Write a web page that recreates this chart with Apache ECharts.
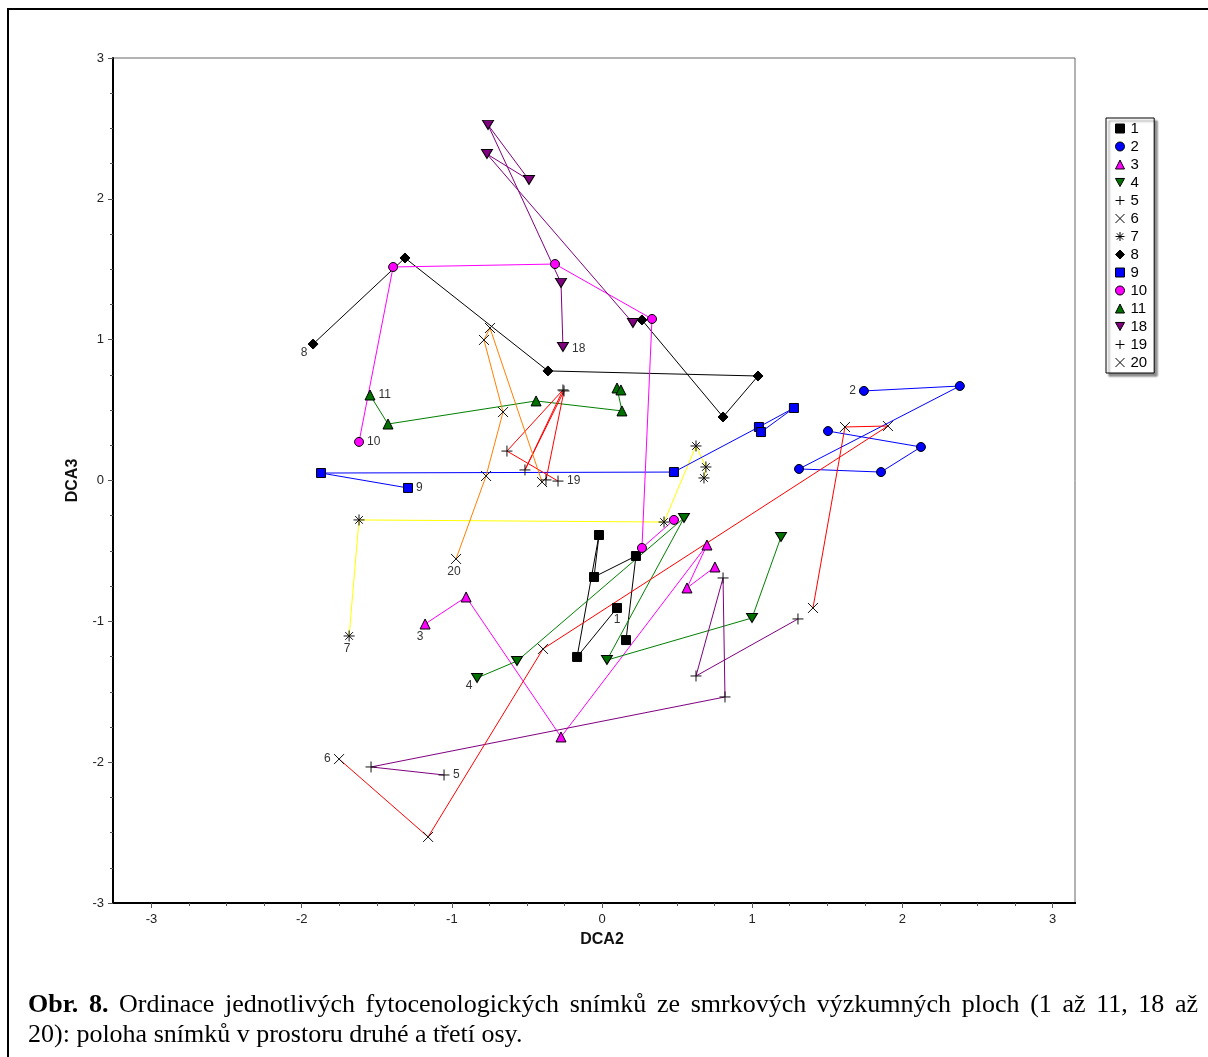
<!DOCTYPE html>
<html>
<head>
<meta charset="utf-8">
<script src="https://cdn.jsdelivr.net/npm/echarts@6/dist/echarts.min.js"></script>
<style>
  html, body { margin: 0; padding: 0; background: #fff; }
  #chart { width: 1208px; height: 1057px; }
</style>
</head>
<body>
<div id="chart"></div>
<script>
// DCA ordination scores (axis 2, axis 3) of the relevés, one array per plot
const plotNames = ['1', '2', '3', '4', '5', '6', '7', '8', '9', '10', '11', '18', '19', '20'];

const plot1  = [[0.100, -0.905], [-0.166, -1.253], [-0.020, -0.387], [-0.053, -0.685], [0.226, -0.536], [0.160, -1.133]];
const plot2  = [[1.744, 0.636], [2.383, 0.671], [1.312, 0.082], [1.858, 0.060], [2.124, 0.238], [1.505, 0.351]];
const plot3  = [[-1.178, -1.019], [-0.905, -0.827], [-0.273, -1.821], [0.699, -0.458], [0.566, -0.763], [0.752, -0.614]];
const plot4  = [[-0.832, -1.402], [-0.566, -1.282], [0.546, -0.266], [0.033, -1.275], [0.999, -0.976], [1.192, -0.401]];
const plot5  = [[-1.052, -2.091], [-1.538, -2.034], [0.819, -1.537], [0.806, -0.692], [0.626, -1.388], [1.305, -0.983]];
const plot6  = [[-1.751, -1.978], [-1.158, -2.531], [-0.393, -1.196], [1.904, 0.387], [1.618, 0.380], [1.405, -0.905]];
const plot7  = [[-1.684, -1.104], [-1.618, -0.280], [0.413, -0.295], [0.626, 0.245], [0.692, 0.096], [0.679, 0.018]];
const plot8  = [[-1.924, 0.969], [-1.312, 1.580], [-0.360, 0.778], [1.039, 0.742], [0.806, 0.451], [0.266, 1.140]];
const plot9  = [[-1.292, -0.053], [-1.871, 0.053], [0.479, 0.060], [1.045, 0.380], [1.278, 0.515], [1.059, 0.344]];
const plot10 = [[-1.618, 0.274], [-1.391, 1.516], [-0.313, 1.537], [0.333, 1.147], [0.266, -0.479], [0.479, -0.280]];
const plot11 = [[-1.545, 0.607], [-1.425, 0.401], [-0.439, 0.565], [0.133, 0.494], [0.100, 0.657], [0.126, 0.643]];
const plot18 = [[-0.260, 0.948], [-0.273, 1.403], [-0.759, 2.525], [-0.486, 2.134], [-0.766, 2.318], [0.206, 1.118]];
const plot19 = [[-0.293, -0.004], [-0.633, 0.209], [-0.260, 0.643], [-0.513, 0.075], [-0.253, 0.636], [-0.373, 0.004]];
const plot20 = [[-0.972, -0.557], [-0.772, 0.032], [-0.659, 0.486], [-0.786, 0.998], [-0.746, 1.083], [-0.399, -0.011]];

const plotData = [plot1, plot2, plot3, plot4, plot5, plot6, plot7, plot8, plot9, plot10, plot11, plot18, plot19, plot20];

// axis range and ticks
const axisMin = -3;
const axisMax = 3;
const axisStep = 1;

const captionBold = 'Obr. 8.';
const captionLine1 = 'Ordinace jednotlivých fytocenologických snímků ze smrkových výzkumných ploch (1 až 11, 18 až';
const captionLine2 = '20): poloha snímků v prostoru druhé a třetí osy.';

// ---- marker shapes ----
const PLUS = 'path://M0,5L10,5M5,0L5,10';
const CROSS = 'path://M0,0L10,10M10,0L0,10';
const STAR = 'path://M0,5L10,5M5,0L5,10M1.5,1.5L8.5,8.5M8.5,1.5L1.5,8.5';
const DOWN = 'path://M0,0L10,0L5,9Z';

// marker + line style for each plot
const styles = {
  '1':  { symbol: 'rect',     size: 9,       fill: '#000000', line: '#000000', label: ['bottom', [0, -2]] },
  '2':  { symbol: 'circle',   size: 9,       fill: '#0000ff', line: '#0000ff', label: ['left', [0, 0]] },
  '3':  { symbol: 'triangle', size: 10,      fill: '#ff00ff', line: '#ff00ff', label: ['bottom', [-5, -2]] },
  '4':  { symbol: DOWN,       size: [11, 9], fill: '#007000', line: '#008000', label: ['bottom', [-8, -6]] },
  '5':  { symbol: PLUS,       size: 11,      fill: 'none',    line: '#800080', label: ['right', [0, 0]] },
  '6':  { symbol: CROSS,      size: 10,      fill: 'none',    line: '#ff0000', label: ['left', [0, 0]] },
  '7':  { symbol: STAR,       size: 11,      fill: 'none',    line: '#ffff00', label: ['bottom', [-2, -2]] },
  '8':  { symbol: 'diamond',  size: [10, 10],fill: '#000000', line: '#000000', label: ['bottom', [-9, -6]] },
  '9':  { symbol: 'rect',     size: 9,       fill: '#0000ff', line: '#0000ff', label: ['right', [0, 0]] },
  '10': { symbol: 'circle',   size: 9,       fill: '#ff00ff', line: '#ff00ff', label: ['right', [0, 0]] },
  '11': { symbol: 'triangle', size: 10,      fill: '#007000', line: '#008000', label: ['right', [0, 0]] },
  '18': { symbol: DOWN,       size: [11, 9], fill: '#800080', line: '#800080', label: ['right', [0, 2]] },
  '19': { symbol: PLUS,       size: 11,      fill: 'none',    line: '#ff0000', label: ['right', [0, 0]] },
  '20': { symbol: CROSS,      size: 10,      fill: 'none',    line: '#ff8000', label: ['bottom', [-2, -2]] }
};

const LABEL_FONT = 'Liberation Sans';

const series = plotNames.map(function (name, i) {
  const st = styles[name];
  const stroked = st.fill === 'none';
  const data = plotData[i].map(function (p, j) {
    if (j !== 0) return p;
    return {
      value: p,
      label: {
        show: true,
        formatter: name,
        position: st.label[0],
        offset: st.label[1],
        distance: 3,
        fontSize: 12,
        fontFamily: LABEL_FONT,
        color: '#333'
      }
    };
  });
  return {
    name: name,
    type: 'line',
    data: data,
    symbol: st.symbol,
    symbolSize: st.size,
    showAllSymbol: true,
    clip: false,
    silent: true,
    animation: false,
    lineStyle: { color: st.line, width: 1 },
    itemStyle: {
      color: stroked ? 'rgba(0,0,0,0)' : st.fill,
      borderColor: stroked ? '#111' : '#000',
      borderWidth: 1
    },
    label: { show: false },
    emphasis: { disabled: true }
  };
});

const legendData = plotNames.map(function (name) {
  const st = styles[name];
  const stroked = st.fill === 'none';
  return {
    name: name,
    icon: st.symbol,
    itemStyle: {
      color: stroked ? 'rgba(0,0,0,0)' : st.fill,
      borderColor: '#000',
      borderWidth: 1
    }
  };
});

// ---- caption: first line justified across the text block ----
const capLeft = 28, capRight = 1198, capSize = 26;
const capFont = '"Liberation Serif", "Times New Roman", serif';
const measureCtx = document.createElement('canvas').getContext('2d');
function textWidth(t, bold) {
  measureCtx.font = (bold ? 'bold ' : '') + capSize + 'px ' + capFont;
  return measureCtx.measureText(t).width;
}
const words1 = captionBold.split(' ').map(function (w) { return { t: w, b: true }; })
  .concat(captionLine1.split(' ').map(function (w) { return { t: w, b: false }; }));
let total = 0;
words1.forEach(function (w) { w.w = textWidth(w.t, w.b); total += w.w; });
const gap = (capRight - capLeft - total) / (words1.length - 1);
const captionEls = [];
let cx = capLeft;
words1.forEach(function (w) {
  captionEls.push({
    type: 'text', x: cx, y: 1005, silent: true,
    style: {
      text: w.t, fill: '#000', fontSize: capSize, fontFamily: capFont,
      fontWeight: w.b ? 'bold' : 'normal', align: 'left', verticalAlign: 'middle'
    }
  });
  cx += w.w + gap;
});
captionEls.push({
  type: 'text', x: capLeft, y: 1035, silent: true,
  style: {
    text: captionLine2, fill: '#000', fontSize: capSize, fontFamily: capFont,
    align: 'left', verticalAlign: 'middle'
  }
});

const chart = echarts.init(document.getElementById('chart'), null, { renderer: 'canvas' });

const axisLabelStyle = { fontSize: 13, fontFamily: LABEL_FONT, color: '#222' };
const tickStyle = { color: '#555', width: 1 };

chart.setOption({
  animation: false,
  backgroundColor: '#fff',
  grid: {
    left: 151.5, right: 155.5, top: 58, bottom: 154,
    containLabel: false, outerBoundsMode: 'none'
  },
  xAxis: {
    type: 'value', min: axisMin, max: axisMax, interval: axisStep,
    axisLine: { show: false, onZero: false },
    splitLine: { show: false },
    axisTick: { show: true, length: 5, lineStyle: tickStyle },
    minorTick: { show: true, splitNumber: 4, length: 3, lineStyle: tickStyle },
    axisLabel: Object.assign({ margin: 10 }, axisLabelStyle),
    name: 'DCA2', nameLocation: 'middle', nameGap: 29,
    nameTextStyle: { fontSize: 16, fontWeight: 'bold', fontFamily: LABEL_FONT, color: '#111' }
  },
  yAxis: {
    type: 'value', min: axisMin, max: axisMax, interval: axisStep,
    offset: 38.5,
    axisLine: { show: true, onZero: false, lineStyle: { color: '#000', width: 2 } },
    splitLine: { show: false },
    axisTick: { show: true, length: 5, lineStyle: tickStyle },
    minorTick: { show: true, splitNumber: 4, length: 3, lineStyle: tickStyle },
    axisLabel: Object.assign({ margin: 9 }, axisLabelStyle),
    name: 'DCA3', nameLocation: 'middle', nameGap: 32, nameRotate: 90,
    nameTextStyle: { fontSize: 16, fontWeight: 'bold', fontFamily: LABEL_FONT, color: '#111' }
  },
  legend: {
    orient: 'vertical',
    left: 1106, top: 118,
    padding: [3, 7, 3, 9],
    itemWidth: 9, itemHeight: 9, itemGap: 3,
    backgroundColor: '#fff',
    borderColor: '#000', borderWidth: 1,
    shadowColor: 'rgba(0,0,0,0.45)', shadowBlur: 2, shadowOffsetX: 3, shadowOffsetY: 3,
    textStyle: { fontSize: 15, lineHeight: 15, fontFamily: LABEL_FONT, color: '#000', padding: [0, 0, 0, 1] },
    itemStyle: { borderWidth: 1 },
    selectedMode: false,
    data: legendData
  },
  graphic: [
    // page border
    { type: 'line', silent: true, shape: { x1: 8, y1: 8, x2: 8, y2: 1057 }, style: { stroke: '#000', lineWidth: 2 } },
    { type: 'line', silent: true, shape: { x1: 8, y1: 9, x2: 1208, y2: 9 }, style: { stroke: '#000', lineWidth: 2 } },
    // plot frame
    { type: 'rect', silent: true, z: -1, shape: { x: 113, y: 58, width: 962, height: 845 }, style: { fill: 'none', stroke: '#666', lineWidth: 1 } },
    { type: 'line', silent: true, shape: { x1: 112, y1: 903, x2: 1076, y2: 903 }, style: { stroke: '#000', lineWidth: 2 } }
  ].concat(captionEls),
  series: series
});
</script>
</body>
</html>
